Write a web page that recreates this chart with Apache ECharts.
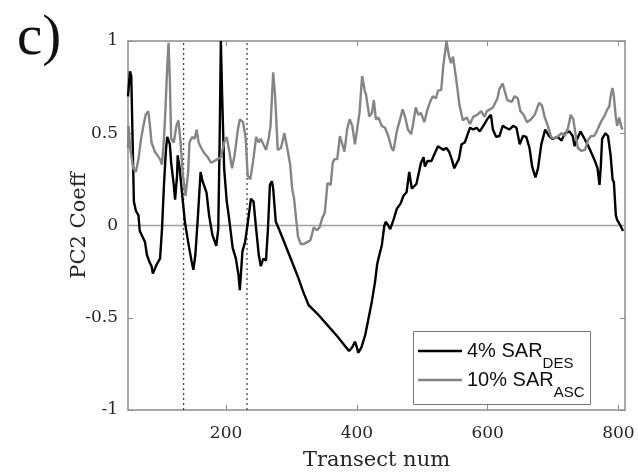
<!DOCTYPE html>
<html>
<head>
<meta charset="utf-8">
<script src="https://cdn.jsdelivr.net/npm/echarts@6/dist/echarts.min.js"></script>
<style>
  html, body { margin: 0; padding: 0; background: #fff; }
  #chart { width: 638px; height: 476px; }
</style>
</head>
<body>
<div id="chart"></div>
<script>
// 4% SAR DES (black line)
const desX = [50, 53, 55, 59, 62, 66, 68, 72, 76, 79, 83, 86, 88, 94, 99, 102, 105, 108, 110, 114, 116, 120, 122, 125, 126, 129, 133, 137, 142, 147, 150, 153, 157, 161, 164, 167, 170, 174, 179, 185, 188, 190, 192, 194, 197, 201, 204, 210, 215, 219, 221, 225, 229, 233, 238, 242, 246, 250, 253, 257, 261, 264, 267, 270, 272, 276, 281, 290, 300, 310, 318, 326, 340, 355, 370, 380, 388, 393, 397, 400, 402, 407, 413, 418, 423, 428, 431, 435, 438, 442, 444, 448, 451, 456, 461, 463, 467, 471, 476, 480, 484, 491, 498, 502, 504, 508, 514, 519, 524, 527, 532, 537, 541, 545, 549, 553, 556, 560, 565, 573, 578, 583, 588, 595, 600, 605, 608, 613, 618, 623, 628, 633, 639, 644, 649, 654, 659, 664, 668, 673, 677, 682, 688, 694, 699, 707, 713, 718, 725, 730, 733, 737, 742, 748, 754, 759, 764, 768, 771, 773, 775, 780, 784, 788, 791, 793, 796, 798, 801, 803, 807];
const desY = [0.70, 0.835, 0.81, 0.13, 0.08, 0.055, -0.03, -0.06, -0.09, -0.16, -0.20, -0.22, -0.26, -0.21, -0.18, -0.02, 0.22, 0.41, 0.48, 0.44, 0.34, 0.22, 0.14, 0.27, 0.38, 0.31, 0.16, 0.02, -0.09, -0.19, -0.24, -0.16, 0.055, 0.29, 0.24, 0.25, 0.18, 0.055, -0.05, -0.11, -0.02, 0.43, 1.0, 0.70, 0.31, 0.13, 0.055, -0.12, -0.18, -0.27, -0.35, -0.14, -0.09, 0.01, 0.145, 0.13, -0.02, -0.16, -0.22, -0.18, -0.19, -0.02, 0.22, 0.24, 0.20, 0.02, -0.02, -0.10, -0.19, -0.28, -0.36, -0.43, -0.48, -0.54, -0.60, -0.645, -0.68, -0.66, -0.63, -0.66, -0.69, -0.66, -0.59, -0.50, -0.41, -0.30, -0.21, -0.15, -0.11, 0.0, 0.02, 0.0, -0.02, 0.03, 0.09, 0.08, 0.12, 0.16, 0.18, 0.29, 0.20, 0.225, 0.34, 0.37, 0.32, 0.35, 0.35, 0.39, 0.43, 0.43, 0.41, 0.42, 0.40, 0.36, 0.31, 0.34, 0.36, 0.44, 0.45, 0.53, 0.52, 0.53, 0.51, 0.55, 0.58, 0.60, 0.52, 0.48, 0.485, 0.54, 0.53, 0.52, 0.54, 0.53, 0.44, 0.485, 0.48, 0.42, 0.32, 0.26, 0.31, 0.44, 0.52, 0.485, 0.47, 0.48, 0.46, 0.50, 0.51, 0.485, 0.43, 0.47, 0.51, 0.47, 0.43, 0.39, 0.35, 0.31, 0.22, 0.32, 0.47, 0.50, 0.485, 0.38, 0.25, 0.235, 0.055, 0.03, 0.04, 0.0, -0.03];

// 10% SAR ASC (grey line)
const ascX = [50, 51, 53, 58, 62, 66, 70, 73, 77, 81, 83, 86, 88, 91, 95, 99, 102, 105, 107, 110, 112, 114, 116, 120, 124, 127, 130, 134, 138, 142, 144, 148, 152, 155, 158, 162, 167, 172, 177, 182, 187, 192, 197, 201, 205, 209, 213, 218, 221, 226, 230, 233, 237, 241, 246, 250, 253, 257, 261, 265, 268, 272, 275, 279, 284, 289, 291, 294, 298, 301, 304, 307, 310, 314, 319, 324, 329, 334, 339, 343, 347, 351, 355, 357, 360, 363, 366, 370, 374, 377, 381, 385, 389, 393, 397, 400, 404, 408, 412, 414, 419, 423, 426, 429, 433, 438, 443, 448, 453, 456, 461, 466, 470, 474, 478, 483, 486, 490, 494, 498, 503, 508, 512, 516, 521, 524, 529, 532, 537, 541, 544, 547, 552, 557, 562, 568, 573, 578, 584, 590, 595, 599, 602, 608, 615, 618, 623, 626, 630, 633, 637, 641, 646, 650, 655, 660, 666, 672, 676, 679, 683, 687, 692, 697, 702, 708, 713, 718, 723, 727, 731, 735, 738, 743, 749, 753, 758, 763, 768, 773, 778, 783, 786, 788, 791, 793, 796, 798, 801, 804, 806];
const ascY = [0.42, 0.54, 0.43, 0.31, 0.29, 0.36, 0.47, 0.53, 0.60, 0.62, 0.56, 0.45, 0.43, 0.40, 0.38, 0.36, 0.33, 0.47, 0.61, 0.86, 0.99, 0.79, 0.47, 0.45, 0.54, 0.57, 0.47, 0.27, 0.16, 0.29, 0.45, 0.48, 0.47, 0.52, 0.45, 0.42, 0.39, 0.37, 0.34, 0.35, 0.36, 0.37, 0.45, 0.48, 0.40, 0.31, 0.38, 0.52, 0.575, 0.56, 0.47, 0.27, 0.25, 0.34, 0.48, 0.45, 0.47, 0.44, 0.41, 0.47, 0.54, 0.83, 0.70, 0.41, 0.42, 0.50, 0.51, 0.41, 0.33, 0.20, 0.145, 0.04, -0.06, -0.10, -0.10, -0.09, -0.08, -0.01, -0.025, -0.01, 0.04, 0.07, 0.23, 0.24, 0.22, 0.34, 0.36, 0.36, 0.485, 0.45, 0.40, 0.52, 0.575, 0.54, 0.44, 0.43, 0.61, 0.81, 0.73, 0.71, 0.59, 0.61, 0.68, 0.575, 0.585, 0.54, 0.53, 0.485, 0.42, 0.405, 0.51, 0.575, 0.63, 0.585, 0.52, 0.495, 0.55, 0.64, 0.60, 0.61, 0.56, 0.63, 0.67, 0.70, 0.69, 0.73, 0.735, 0.86, 1.0, 0.915, 0.88, 0.915, 0.79, 0.65, 0.57, 0.585, 0.55, 0.59, 0.60, 0.62, 0.59, 0.62, 0.61, 0.64, 0.69, 0.74, 0.77, 0.73, 0.68, 0.69, 0.67, 0.70, 0.69, 0.62, 0.60, 0.56, 0.575, 0.60, 0.64, 0.665, 0.65, 0.59, 0.54, 0.48, 0.47, 0.485, 0.50, 0.485, 0.53, 0.60, 0.575, 0.48, 0.42, 0.405, 0.41, 0.46, 0.485, 0.485, 0.52, 0.56, 0.59, 0.63, 0.645, 0.70, 0.745, 0.70, 0.585, 0.54, 0.585, 0.54, 0.52];

const xTicks = [200, 400, 600, 800];
const dashedX = [135, 232];
const nameDes = '4% SAR DES';
const nameAsc = '10% SAR ASC';
const legendLabels = {};
legendLabels[nameDes] = '{m|4% SAR}{s|DES}';
legendLabels[nameAsc] = '{m|10% SAR}{s|ASC}';

const zip = (xs, ys) => xs.map((x, i) => [x, ys[i]]);

const axisGrey = '#8c8c8c';
const serif = 'DejaVu Serif';

let chart = echarts.init(document.getElementById('chart'));

let option = {
  animation: false,
  backgroundColor: '#fff',
  grid: { left: 128, right: 13, top: 41, bottom: 65 },
  graphic: [
    {
      type: 'text',
      left: 17,
      top: 11,
      style: { text: 'c)', font: '57px "Liberation Serif"', fill: '#111' }
    },
    {
      // legend frame
      type: 'rect',
      left: 413,
      top: 331,
      z: 10,
      shape: { width: 177, height: 73 },
      style: { fill: '#fff', stroke: '#777', lineWidth: 1 }
    }
  ],
  legend: {
    data: [nameDes, nameAsc],
    orient: 'vertical',
    left: 418,
    top: 341,
    z: 20,
    padding: 0,
    itemGap: -1,
    itemWidth: 44,
    itemHeight: 2.5,
    icon: 'rect',
    formatter: name => legendLabels[name],
    textStyle: {
      rich: {
        m: { fontFamily: 'Liberation Sans', fontSize: 20, color: '#111' },
        s: { fontFamily: 'Liberation Sans', fontSize: 15, color: '#111', padding: [25, 0, 0, 0] }
      }
    }
  },
  xAxis: [
    {
      type: 'value',
      min: 50,
      max: 810,
      name: 'Transect num',
      nameLocation: 'middle',
      nameGap: 40,
      nameMoveOverlap: false,
      nameTextStyle: { fontFamily: serif, fontSize: 21, color: '#262626' },
      axisLine: { onZero: false, lineStyle: { color: axisGrey, width: 1.5 } },
      axisTick: { inside: true, length: 5, customValues: xTicks, lineStyle: { color: axisGrey } },
      axisLabel: { customValues: xTicks, margin: 15, fontFamily: serif, fontSize: 17, color: '#262626' },
      splitLine: { show: false }
    },
    {
      type: 'value',
      position: 'top',
      min: 50,
      max: 810,
      axisLine: { onZero: false, lineStyle: { color: axisGrey, width: 1.5 } },
      axisTick: { inside: true, length: 5, customValues: xTicks, lineStyle: { color: axisGrey } },
      axisLabel: { show: false },
      splitLine: { show: false }
    }
  ],
  yAxis: [
    {
      type: 'value',
      min: -1,
      max: 1,
      interval: 0.5,
      name: 'PC2 Coeff',
      nameLocation: 'middle',
      nameGap: 38,
      nameMoveOverlap: false,
      nameTextStyle: { fontFamily: serif, fontSize: 21, color: '#262626' },
      axisLine: { show: true, onZero: false, lineStyle: { color: axisGrey, width: 1.5 } },
      axisTick: { show: true, inside: true, length: 5, lineStyle: { color: axisGrey } },
      axisLabel: { margin: 10, fontFamily: serif, fontSize: 17, color: '#262626' },
      splitLine: { show: false }
    },
    {
      type: 'value',
      position: 'right',
      min: -1,
      max: 1,
      interval: 0.5,
      axisLine: { show: true, onZero: false, lineStyle: { color: axisGrey, width: 1.5 } },
      axisTick: { show: true, inside: true, length: 5, lineStyle: { color: axisGrey } },
      axisLabel: { show: false },
      splitLine: { show: false }
    }
  ],
  series: [
    {
      name: 'zero',
      type: 'line',
      data: [[50, 0], [810, 0]],
      symbol: 'none',
      silent: true,
      z: 1,
      lineStyle: { color: '#a0a0a0', width: 1.5 }
    },
    {
      name: 'cut1',
      type: 'line',
      data: [[dashedX[0], -1], [dashedX[0], 1]],
      symbol: 'none',
      silent: true,
      z: 1,
      lineStyle: { color: '#444', width: 1.3, type: [2, 3] }
    },
    {
      name: 'cut2',
      type: 'line',
      data: [[dashedX[1], -1], [dashedX[1], 1]],
      symbol: 'none',
      silent: true,
      z: 1,
      lineStyle: { color: '#444', width: 1.3, type: [2, 3] }
    },
    {
      name: nameDes,
      type: 'line',
      data: zip(desX, desY),
      symbol: 'none',
      z: 3,
      lineStyle: { color: '#000', width: 2.4 },
      itemStyle: { color: '#000' }
    },
    {
      name: nameAsc,
      type: 'line',
      data: zip(ascX, ascY),
      symbol: 'none',
      z: 4,
      lineStyle: { color: '#858585', width: 2.4 },
      itemStyle: { color: '#858585' }
    }
  ]
};

chart.setOption(option);
</script>
</body>
</html>
